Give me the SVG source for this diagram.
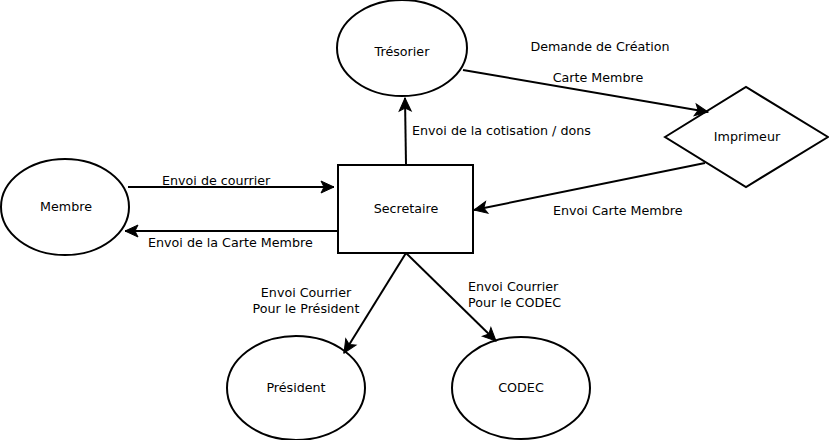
<svg xmlns="http://www.w3.org/2000/svg" width="829" height="440" viewBox="0 0 829 440">
<style>
.n{fill:#fff;stroke:#000;stroke-width:2}
.c{fill:none;stroke:#000;stroke-width:2}
text{font-family:"DejaVu Sans",sans-serif;font-size:12.7px;fill:#000}
.m{text-anchor:middle}
</style>
<defs>
<marker id="ah" markerUnits="userSpaceOnUse" markerWidth="16" markerHeight="14" refX="14" refY="7" orient="auto" overflow="visible">
<path d="M14,7 L1,1 L4,7 L1,13 Z" fill="#000" stroke="#000" stroke-width="1" stroke-linejoin="miter"/>
</marker>
</defs>
<rect width="829" height="440" fill="#fff"/>
<g id="tresorier"><ellipse class="n" cx="402" cy="48" rx="65" ry="48"/><text class="m" x="402" y="56">Trésorier</text></g>
<g id="membre"><ellipse class="n" cx="65" cy="207" rx="64" ry="48"/><text class="m" x="66" y="211">Membre</text></g>
<g id="secretaire"><rect class="n" x="338" y="165" width="135" height="88"/><text class="m" x="406" y="213">Secretaire</text></g>
<g id="imprimeur"><polygon class="n" points="665,137 746,87 828,137 746,187"/><text class="m" x="747" y="141">Imprimeur</text></g>
<g id="president"><ellipse class="n" cx="296" cy="388" rx="69" ry="52"/><text class="m" x="296" y="392">Président</text></g>
<g id="codec"><ellipse class="n" cx="521" cy="388" rx="69" ry="51"/><text class="m" x="521" y="392">CODEC</text></g>
<g id="connectors">
<line class="c" x1="128" y1="187" x2="334" y2="187" marker-end="url(#ah)"/>
<line class="c" x1="338" y1="231" x2="125" y2="231" marker-end="url(#ah)"/>
<line class="c" x1="406" y1="165" x2="405" y2="98" marker-end="url(#ah)"/>
<line class="c" x1="463" y1="70" x2="708" y2="112" marker-end="url(#ah)"/>
<line class="c" x1="705" y1="163" x2="474" y2="210" marker-end="url(#ah)"/>
<line class="c" x1="406" y1="253" x2="344" y2="353" marker-end="url(#ah)"/>
<line class="c" x1="406" y1="253" x2="496" y2="341" marker-end="url(#ah)"/>
<text x="162" y="185">Envoi de courrier</text>
<text x="148" y="247">Envoi de la Carte Membre</text>
<text x="412" y="135">Envoi de la cotisation / dons</text>
<text class="m" x="600" y="51">Demande de Création</text>
<text class="m" x="598" y="82">Carte Membre</text>
<text x="553" y="215">Envoi Carte Membre</text>
<text class="m" x="306" y="297">Envoi Courrier</text>
<text class="m" x="306" y="313">Pour le Président</text>
<text x="468" y="291">Envoi Courrier</text>
<text x="468" y="307">Pour le CODEC</text>
</g>
</svg>
